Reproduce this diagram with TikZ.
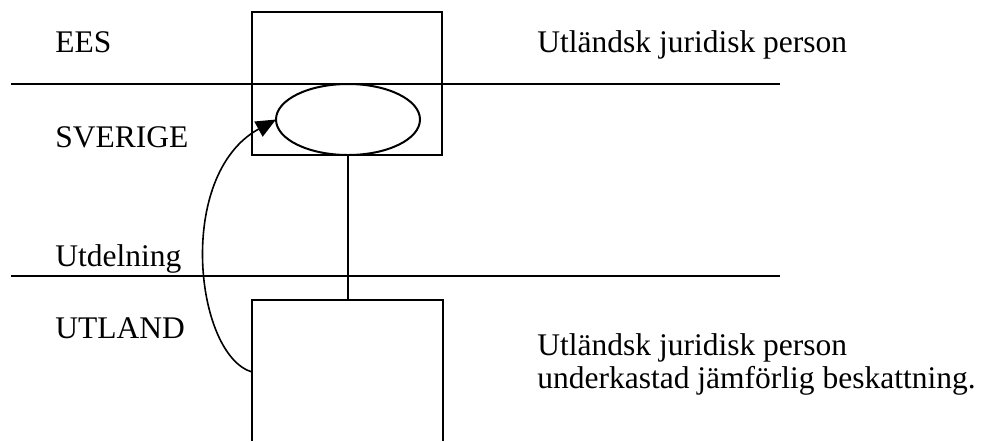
\documentclass[tikz,border=0pt]{standalone}
\usepackage{fontspec}
\setmainfont{Liberation Serif}
\usetikzlibrary{positioning, shapes.geometric, arrows.meta}

\begin{document}
\begin{tikzpicture}[x=0.5pt, y=-0.5pt, >={Triangle[length=10pt,width=8.5pt]},
    lbl/.style={anchor=base west, inner sep=0pt, font=\fontsize{15.75}{16.5}\selectfont},
    boxline/.style={line width=1pt},
    divider/.style={line width=0.65pt}]
    \useasboundingbox (0,0) rectangle (985,441);

    % Border lines between the zones
    \draw[divider] (11,84) -- (780,84);
    \draw[boxline] (11,84) -- (35,84);
    \draw[boxline] (156,84) -- (515,84);
    \draw[divider] (11,276) -- (780,276);

    % Zone labels
    \node[lbl] (ees) at (55,52) {EES};
    \node[lbl] (sve) at (55,147) {SVERIGE};
    \node[lbl] (utd) at (55,266) {Utdelning};
    \node[lbl] (utl) at (55,338) {UTLAND};

    % Company in the EES and its Swedish part
    \node[draw, boxline, minimum width=95pt, minimum height=71.5pt, inner sep=0pt, outer sep=0pt] (eesbox) at (347,83.5) {};
    \node[draw, boxline, ellipse, minimum width=72pt, minimum height=35.5pt, inner sep=0pt, outer sep=0pt] (sverige) at (348,119.5) {};
    \node[lbl] (eesjur) at (537,52) {Utländsk juridisk person};

    % Foreign company, open at the bottom
    \coordinate (utlandtop) at (348,300);
    \coordinate (utlandbl) at (252,441);
    \coordinate (utlandbr) at (443,441);
    \draw[boxline] (utlandbl) |- (utlandtop) -| (utlandbr);
    \coordinate (utlandleft) at (252,372);
    \node[lbl] (utljur1) at (537,355) {Utländsk juridisk person};
    \node[lbl] (utljur2) at (537,388) {underkastad jämförlig beskattning.};

    % Ownership line and dividend arrow
    \draw[boxline] (sverige.south) -- (utlandtop);
    \draw[->, line width=0.8pt] (utlandleft) .. controls (195,355) and (175,175) .. (sverige.west);
\end{tikzpicture}
\end{document}
